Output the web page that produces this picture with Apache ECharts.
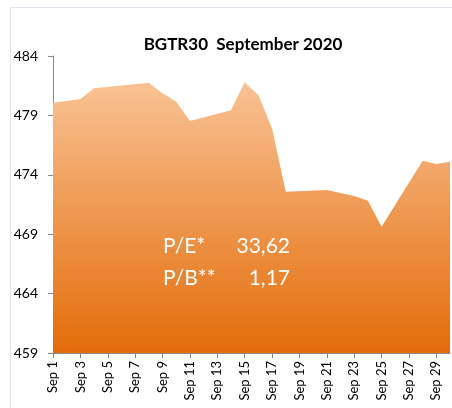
<!DOCTYPE html>
<html>
<head>
<meta charset="utf-8">
<script src="https://cdn.jsdelivr.net/npm/echarts@6/dist/echarts.min.js"></script>
<style>
  html, body { margin: 0; padding: 0; background: #fff; }
  #chart { width: 452px; height: 408px; }
</style>
</head>
<body>
<div id="chart"></div>
<script>
// days of September, null = no trading
var days = [];
for (var d = 1; d <= 30; d++) days.push("Sep " + d);
var values = [
  480.07, 480.22, 480.38, 481.28, null, null, null, 481.75, 480.86, 480.15,
  478.53, null, null, 479.43, 481.79, 480.72, 477.91, 472.58, null, null,
  472.72, null, 472.22, 471.82, 469.63, null, null, 475.19, 474.91, 475.10
];
var peLabel = "P/E*", peValue = "33,62";
var pbLabel = "P/B**", pbValue = "1,17";

var chart = echarts.init(document.getElementById("chart"));
var font = "Lato, 'Open Sans', sans-serif";

var option = {
  animation: false,
  title: {
    text: "BGTR30  September 2020",
    left: 238,
    textAlign: "center",
    top: 31,
    textStyle: { fontFamily: font, fontSize: 17, fontWeight: "bold", color: "#000" }
  },
  grid: { left: 53, right: 2, top: 56, bottom: 55 },
  xAxis: {
    type: "category",
    data: days,
    boundaryGap: false,
    axisLine: { show: true, lineStyle: { color: "#898989" } },
    axisTick: { show: true, interval: 1, length: 5, lineStyle: { color: "#898989" } },
    axisLabel: {
      interval: 1, rotate: 90, margin: 8,
      fontFamily: font, fontSize: 13, color: "#000"
    }
  },
  yAxis: {
    type: "value",
    min: 459, max: 484, interval: 5,
    axisLine: { show: true, lineStyle: { color: "#898989" } },
    axisTick: { show: true, length: 5, lineStyle: { color: "#898989" } },
    splitLine: { show: false },
    axisLabel: { margin: 15, fontFamily: font, fontSize: 14, color: "#000" }
  },
  series: [{
    type: "line",
    data: values,
    connectNulls: true,
    symbol: "none",
    lineStyle: { width: 0 },
    areaStyle: {
      opacity: 1,
      color: new echarts.graphic.LinearGradient(0, 0, 0, 1, [
        { offset: 0, color: "#F9C294" },
        { offset: 1, color: "#E36C09" }
      ])
    }
  }],
  graphic: [
    { type: "rect", shape: { x: 10.5, y: 7.5, width: 470, height: 430 },
      style: { fill: "none", stroke: "#DDE4EE", lineWidth: 1 }, silent: true },
    { type: "text", z: 100, x: 163, y: 236,
      style: { text: peLabel, fill: "#fff", font: "21px " + font } },
    { type: "text", z: 100, x: 290, y: 236,
      style: { text: peValue, fill: "#fff", font: "21px " + font, textAlign: "right" } },
    { type: "text", z: 100, x: 163, y: 268,
      style: { text: pbLabel, fill: "#fff", font: "21px " + font } },
    { type: "text", z: 100, x: 290, y: 268,
      style: { text: pbValue, fill: "#fff", font: "21px " + font, textAlign: "right" } }
  ]
};
chart.setOption(option);
</script>
</body>
</html>
